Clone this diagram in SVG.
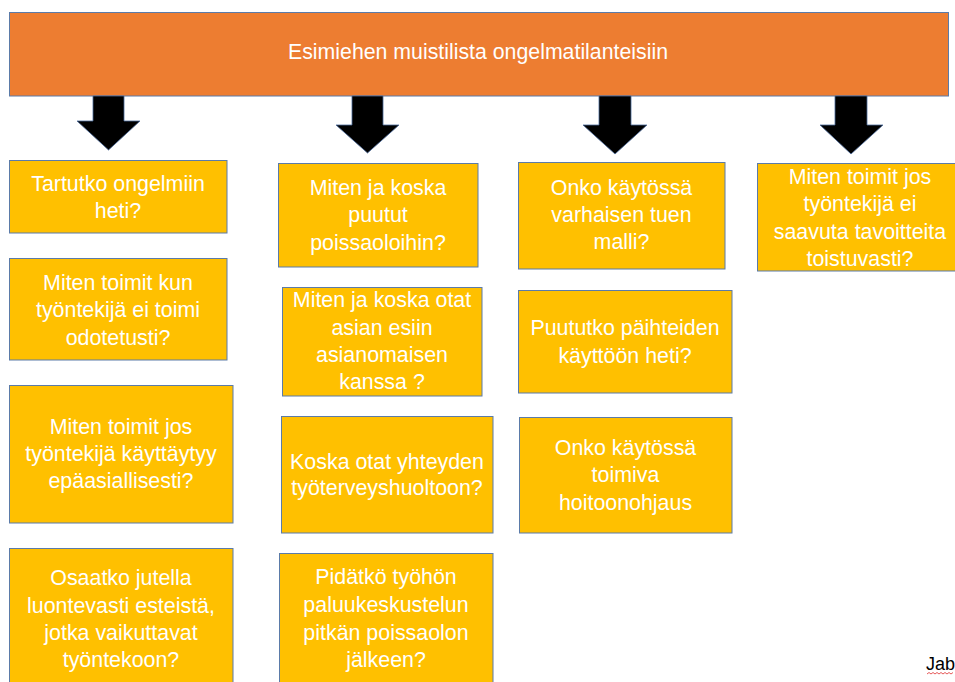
<svg xmlns="http://www.w3.org/2000/svg" width="955" height="682" viewBox="0 0 955 682">
  <style>
    .box { fill: #FFC000; stroke: #5B7BA8; stroke-width: 1; }
    .head { fill: #ED7D31; stroke: #5B7BA8; stroke-width: 1; }
    .arrow { fill: #000000; stroke: #4A6A9A; stroke-width: 0.8; }
    text { font-family: "Liberation Sans", Arial, sans-serif; font-size: 21.4px; fill: #FFFFFF; text-anchor: middle; }
    .title { font-size: 21.3px; }
    .note { fill: #000000; font-size: 18px; text-anchor: start; }
  </style>
  <rect width="955" height="682" fill="#FFFFFF"/>

  <g id="header">
    <rect class="head" x="9.5" y="12.5" width="939" height="83.5"/>
    <text class="title" x="478" y="59">Esimiehen muistilista ongelmatilanteisiin</text>
  </g>

  <g id="connectors">
    <path class="arrow" d="M93,96 H124 V121 H140 L108.5,150 L77,121 H93 Z"/>
    <path class="arrow" d="M352,96 H383 V125 H399 L367.5,153 L336,125 H352 Z"/>
    <path class="arrow" d="M599,96 H631 V125 H647 L615,154 L583,125 H599 Z"/>
    <path class="arrow" d="M835,96 H867 V125 H883 L851,154 L820,125 H835 Z"/>
  </g>

  <!-- column 1 -->
  <g id="b1">
    <rect class="box" x="9.5" y="160.5" width="217.5" height="72.5"/>
    <text x="118" y="191">Tartutko ongelmiin</text>
    <text x="118" y="218">heti?</text>
  </g>
  <g id="b2">
    <rect class="box" x="9.5" y="258.5" width="217.5" height="101.5"/>
    <text x="118" y="290">Miten toimit kun</text>
    <text x="118" y="317">työntekijä ei toimi</text>
    <text x="118" y="345">odotetusti?</text>
  </g>
  <g id="b3">
    <rect class="box" x="9.5" y="385.5" width="223.5" height="137.5"/>
    <text x="121" y="434">Miten toimit jos</text>
    <text x="121" y="461">työntekijä käyttäytyy</text>
    <text x="121" y="488">epäasiallisesti?</text>
  </g>
  <g id="b4">
    <rect class="box" x="9.5" y="548.5" width="223.5" height="140"/>
    <text x="121" y="585">Osaatko jutella</text>
    <text x="121" y="613">luontevasti esteistä,</text>
    <text x="121" y="640">jotka vaikuttavat</text>
    <text x="121" y="667">työntekoon?</text>
  </g>

  <!-- column 2 -->
  <g id="c1">
    <rect class="box" x="278.5" y="163.5" width="199.5" height="103.5"/>
    <text x="378" y="195">Miten ja koska</text>
    <text x="378" y="222">puutut</text>
    <text x="378" y="250">poissaoloihin?</text>
  </g>
  <g id="c2">
    <rect class="box" x="282.5" y="287.5" width="199.5" height="108.5"/>
    <text x="382" y="307">Miten ja koska otat</text>
    <text x="382" y="335">asian esiin</text>
    <text x="382" y="362">asianomaisen</text>
    <text x="382" y="389">kanssa ?</text>
  </g>
  <g id="c3">
    <rect class="box" x="281.5" y="416.5" width="211.5" height="116.5"/>
    <text x="387" y="469">Koska otat yhteyden</text>
    <text x="387" y="495">työterveyshuoltoon?</text>
  </g>
  <g id="c4">
    <rect class="box" x="279.5" y="553.5" width="213.5" height="140"/>
    <text x="386" y="584">Pidätkö työhön</text>
    <text x="386" y="612">paluukeskustelun</text>
    <text x="386" y="640">pitkän poissaolon</text>
    <text x="386" y="667">jälkeen?</text>
  </g>

  <!-- column 3 -->
  <g id="d1">
    <rect class="box" x="518.5" y="162.5" width="206.5" height="106.5"/>
    <text x="621.5" y="195">Onko käytössä</text>
    <text x="621.5" y="222">varhaisen tuen</text>
    <text x="621.5" y="249">malli?</text>
  </g>
  <g id="d2">
    <rect class="box" x="518.5" y="290.5" width="213.5" height="102.5"/>
    <text x="625" y="335">Puututko päihteiden</text>
    <text x="625" y="363">käyttöön heti?</text>
  </g>
  <g id="d3">
    <rect class="box" x="519.5" y="417.5" width="212.5" height="115.5"/>
    <text x="625.5" y="455">Onko käytössä</text>
    <text x="625.5" y="482">toimiva</text>
    <text x="625.5" y="510">hoitoonohjaus</text>
  </g>

  <!-- column 4 -->
  <g id="e1">
    <rect class="box" x="757.5" y="163.5" width="205" height="107.5"/>
    <text x="860" y="184">Miten toimit jos</text>
    <text x="860" y="211">työntekijä ei</text>
    <text x="860" y="239">saavuta tavoitteita</text>
    <text x="860" y="266">toistuvasti?</text>
  </g>

  <g id="footnote">
    <text class="note" x="926" y="670">Jab</text>
    <path d="M927,674 l2,-1.5 l2,1.5 l2,-1.5 l2,1.5 l2,-1.5 l2,1.5 l2,-1.5 l2,1.5 l2,-1.5 l2,1.5 l2,-1.5 l2,1.5 l2,-1.5" fill="none" stroke="#E03030" stroke-width="0.8"/>
  </g>
</svg>
